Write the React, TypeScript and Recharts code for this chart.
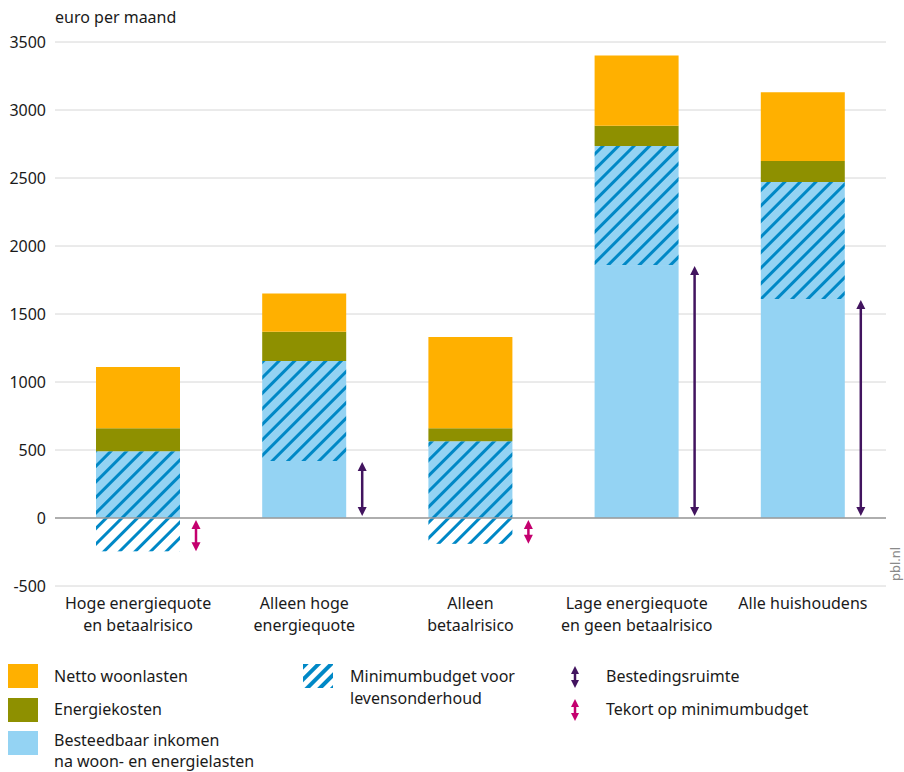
import { Bar, CartesianGrid, ComposedChart, ReferenceLine, XAxis, YAxis } from "recharts";

const categories = [
  ["Hoge energiequote", "en betaalrisico"],
  ["Alleen hoge", "energiequote"],
  ["Alleen", "betaalrisico"],
  ["Lage energiequote", "en geen betaalrisico"],
  ["Alle huishoudens"],
];
// besteedbaar inkomen na woon- en energielasten
const besteedbaar = [490, 1155, 565, 2735, 2470];
const minimumbudget = [735, 735, 755, 875, 860];
const energiekosten = [170, 215, 95, 150, 155];
const woonlasten = [450, 280, 670, 515, 505];
const yTicks = [-500, 0, 500, 1000, 1500, 2000, 2500, 3000, 3500];

const ORANGE = "#FFB000";
const OLIVE = "#8E9000";
const LIGHT = "#94D3F3";
const STRIPE = "#0088C6";
const PURPLE = "#42145F";
const MAGENTA = "#C4006F";
const FONT = '"Noto Sans", sans-serif';

const data = categories.map((lines, i) => {
  const ruimte = besteedbaar[i] - minimumbudget[i];
  const solid = Math.max(0, ruimte);
  return {
    name: lines.join(" "),
    lines,
    solid,
    hatch: besteedbaar[i] - solid,
    energie: energiekosten[i],
    woon: woonlasten[i],
    tekort: Math.min(0, ruimte),
  };
});

function Arrow({ x, y1, y2, color }: any) {
  const top = Math.min(y1, y2);
  const bot = Math.max(y1, y2);
  if (bot - top < 12) return null;
  return (
    <g>
      <line x1={x} x2={x} y1={top + 6} y2={bot - 6} stroke={color} strokeWidth={2.5} />
      <path d={`M${x},${top} L${x - 4.5},${top + 9} L${x + 4.5},${top + 9} Z`} fill={color} />
      <path d={`M${x},${bot} L${x - 4.5},${bot - 9} L${x + 4.5},${bot - 9} Z`} fill={color} />
    </g>
  );
}

function RuimteShape(props: any) {
  const { x, y, width, height } = props;
  const top = Math.min(y, y + height);
  const h = Math.abs(height);
  return (
    <g>
      {h > 0 && <rect x={x} y={top} width={width} height={h} fill={LIGHT} />}
      <Arrow x={x + width + 16} y1={top + 1} y2={top + h - 2} color={PURPLE} />
    </g>
  );
}

function TekortShape(props: any) {
  const { x, y, width, height } = props;
  const top = Math.min(y, y + height);
  const h = Math.abs(height);
  return (
    <g>
      {h > 0 && <rect x={x} y={top} width={width} height={h} fill="url(#hatchWhite)" />}
      <Arrow x={x + width + 16} y1={top + 2} y2={top + h} color={MAGENTA} />
    </g>
  );
}

function CatTick({ x, y, payload }: any) {
  const item = data.find((d) => d.name === payload.value);
  const lines = item ? item.lines : [payload.value];
  return (
    <text x={x} y={y} textAnchor="middle" fontSize={16} fill="#1a1a1a" fontFamily={FONT}>
      {lines.map((l: string, i: number) => (
        <tspan key={i} x={x} y={y + 15 + i * 22}>
          {l}
        </tspan>
      ))}
    </text>
  );
}

function Swatch({ color }: { color: string }) {
  return <div style={{ position: "absolute", left: 0, top: 0, width: 30, height: 24, background: color }} />;
}

function LegendArrow({ color }: { color: string }) {
  return (
    <svg width={12} height={24} style={{ position: "absolute", left: 0, top: 0 }}>
      <line x1={6} x2={6} y1={5} y2={19} stroke={color} strokeWidth={2.5} />
      <path d="M6,1 L2,9 L10,9 Z" fill={color} />
      <path d="M6,23 L2,15 L10,15 Z" fill={color} />
    </svg>
  );
}

const textStyle: any = { position: "absolute", fontSize: 16, lineHeight: "22px", whiteSpace: "nowrap" };

export default function App() {
  return (
    <div style={{ position: "relative", width: 904, height: 772, fontFamily: FONT, color: "#1a1a1a", background: "#fff", overflow: "hidden" }}>
      <style>{`body{margin:0}`}</style>
      <svg width={0} height={0} style={{ position: "absolute" }}>
        <defs>
          <pattern id="hatchBlue" width={11} height={11} patternUnits="userSpaceOnUse" patternTransform="rotate(45)">
            <rect width={11} height={11} fill={LIGHT} />
            <rect width={3} height={11} fill={STRIPE} />
          </pattern>
          <pattern id="hatchWhite" width={11} height={11} patternUnits="userSpaceOnUse" patternTransform="rotate(45)">
            <rect width={11} height={11} fill="#fff" />
            <rect width={3} height={11} fill={STRIPE} />
          </pattern>
          <pattern id="hatchLegend" width={9} height={9} patternUnits="userSpaceOnUse" patternTransform="rotate(45)">
            <rect width={9} height={9} fill="#fff" />
            <rect width={4} height={9} fill={STRIPE} />
          </pattern>
        </defs>
      </svg>
      <div style={{ position: "absolute", left: 55, top: 6, fontSize: 16, lineHeight: "22px" }}>euro per maand</div>
      <ComposedChart
        width={904}
        height={650}
        data={data}
        stackOffset="sign"
        margin={{ top: 42, right: 18, left: 1, bottom: 0 }}
      >
        <CartesianGrid vertical={false} stroke="#d6d6d6" />
        <XAxis dataKey="name" axisLine={false} tickLine={false} height={64} interval={0} tick={<CatTick />} />
        <YAxis
          domain={[-500, 3500]}
          ticks={yTicks}
          width={54}
          axisLine={false}
          tickLine={false}
          tick={{ fontSize: 16, fill: "#1a1a1a", fontFamily: FONT, dx: -1 }}
        />
        <Bar dataKey="solid" stackId="a" barSize={84} fill={LIGHT} shape={<RuimteShape />} isAnimationActive={false} />
        <Bar dataKey="hatch" stackId="a" barSize={84} fill="url(#hatchBlue)" isAnimationActive={false} />
        <Bar dataKey="energie" stackId="a" barSize={84} fill={OLIVE} isAnimationActive={false} />
        <Bar dataKey="woon" stackId="a" barSize={84} fill={ORANGE} isAnimationActive={false} />
        <Bar dataKey="tekort" stackId="a" barSize={84} fill="url(#hatchWhite)" shape={<TekortShape />} isAnimationActive={false} />
        <ReferenceLine y={0} stroke="#9a9a9a" strokeWidth={1.5} />
      </ComposedChart>
      <svg width={18} height={50} style={{ position: "absolute", left: 886, top: 535 }}>
        <text transform="translate(14,46) rotate(-90)" fontSize={13} fill="#8a8a8a" fontFamily={FONT}>
          pbl.nl
        </text>
      </svg>

      <div style={{ position: "absolute", left: 8, top: 664 }}>
        <Swatch color={ORANGE} />
      </div>
      <div style={{ ...textStyle, left: 54, top: 665 }}>Netto woonlasten</div>
      <div style={{ position: "absolute", left: 8, top: 698 }}>
        <Swatch color={OLIVE} />
      </div>
      <div style={{ ...textStyle, left: 54, top: 698 }}>Energiekosten</div>
      <div style={{ position: "absolute", left: 8, top: 731 }}>
        <Swatch color={LIGHT} />
      </div>
      <div style={{ ...textStyle, left: 54, top: 730, lineHeight: "21px" }}>
        Besteedbaar inkomen
        <br />
        na woon- en energielasten
      </div>

      <svg width={30} height={24} style={{ position: "absolute", left: 303, top: 664 }}>
        <rect width={30} height={24} fill="url(#hatchLegend)" />
      </svg>
      <div style={{ ...textStyle, left: 350, top: 665 }}>
        Minimumbudget voor
        <br />
        levensonderhoud
      </div>

      <div style={{ position: "absolute", left: 569, top: 665 }}>
        <LegendArrow color={PURPLE} />
      </div>
      <div style={{ ...textStyle, left: 606, top: 665 }}>Bestedingsruimte</div>
      <div style={{ position: "absolute", left: 569, top: 698 }}>
        <LegendArrow color={MAGENTA} />
      </div>
      <div style={{ ...textStyle, left: 606, top: 698 }}>Tekort op minimumbudget</div>
    </div>
  );
}
